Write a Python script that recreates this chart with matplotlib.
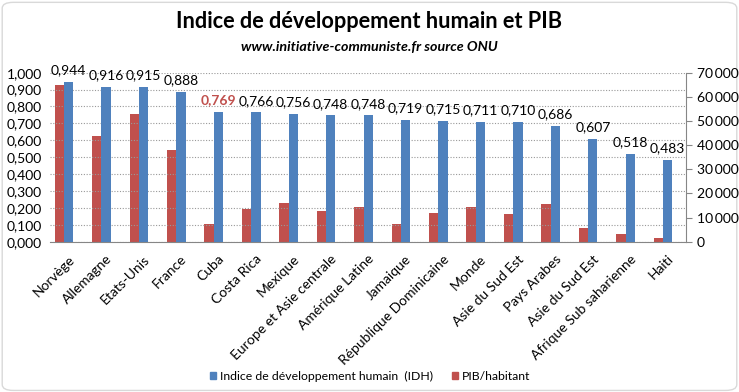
import matplotlib.pyplot as plt
import matplotlib.ticker as mticker
import matplotlib.transforms as mtransforms
from matplotlib.patches import Patch, FancyBboxPatch
import numpy as np

plt.rcParams['font.family'] = ['Lato', 'DejaVu Sans']

pays = ['Norvège', 'Allemagne', 'Etats-Unis', 'France', 'Cuba', 'Costa Rica',
        'Mexique', 'Europe et Asie centrale', 'Amérique Latine', 'Jamaique',
        'République Dominicaine', 'Monde', 'Asie du Sud Est', 'Pays Arabes',
        'Asie du Sud Est', 'Afrique Sub saharienne', 'Haiti']
idh = [0.944, 0.916, 0.915, 0.888, 0.769, 0.766, 0.756, 0.748, 0.748, 0.719,
       0.715, 0.711, 0.710, 0.686, 0.607, 0.518, 0.483]
pib = [64800, 43800, 52900, 38000, 7300, 13500, 16000, 12700, 14500, 7300,
       11900, 14500, 11500, 15600, 5500, 3300, 1650]

bleu = '#4F81BD'
rouge = '#C0504D'
gris = '#868686'

W, H = 739, 392
fig = plt.figure(figsize=(W / 100, H / 100), dpi=100)

# cadre arrondi du graphique
fig.patches.append(FancyBboxPatch((0.003, 0.004), 0.994, 0.99, boxstyle='round,pad=0,rounding_size=0.015',
                                  transform=fig.transFigure, fc='white', ec='#d9d9d9', lw=1, zorder=-10))

ax = fig.add_axes([50 / W, 150.3 / H, 636 / W, 169 / H])
ax2 = ax.twinx()

x = np.arange(len(pays))
bw = 0.25
ax.bar(x + bw / 2, idh, bw, color=bleu, zorder=3)
ax2.bar(x - bw / 2, pib, bw, color=rouge, zorder=3)

ax.set_xlim(-0.374, len(pays) - 1 + 0.614)
ax.set_ylim(0, 1)
ax2.set_ylim(0, 70000)
ax.set_yticks(np.arange(0, 1.01, 0.1))
ax2.set_yticks(np.arange(0, 70001, 10000))
ax.yaxis.set_major_formatter(mticker.FuncFormatter(lambda v, p: ('%.3f' % v).replace('.', ',')))
ax2.yaxis.set_major_formatter(mticker.FuncFormatter(
    lambda v, p: '{:,.0f}'.format(v).replace(',', '\u2009')))

ax.grid(axis='y', linestyle=(0, (1, 1.5)), color='#999999', lw=0.8, zorder=0)
ax.set_axisbelow(True)

for a in (ax, ax2):
    for s in ('top', 'left'):
        a.spines[s].set_visible(False)
ax.spines['right'].set_visible(False)
ax2.spines['bottom'].set_visible(False)
ax2.spines['right'].set_color(gris)
ax.spines['bottom'].set_color(gris)

ax.tick_params(axis='y', length=0, labelsize=10, pad=6)
ax2.tick_params(axis='y', length=4, color=gris, labelsize=10, pad=4)
ax.tick_params(axis='x', length=0, pad=8)
ax.set_xticks(x)
ax.set_xticklabels(pays, rotation=45, ha='right', va='top', rotation_mode='anchor', fontsize=10)
decal = mtransforms.ScaledTranslation(4 / 100, 0, fig.dpi_scale_trans)
for lab in ax.get_xticklabels():
    lab.set_transform(lab.get_transform() + decal)

ax.set_zorder(ax2.get_zorder() + 1)
ax.patch.set_visible(False)

for i, v in enumerate(idh):
    cuba = pays[i] == 'Cuba'
    ax.annotate(('%.3f' % v).replace('.', ','), (x[i] + bw / 2, v), xytext=(0, 4),
                textcoords='offset points', ha='center', va='bottom', fontsize=10,
                color=rouge if cuba else 'black', fontweight='bold' if cuba else 'normal')

fig.text(0.5, 1 - 22 / H, 'Indice de développement humain et PIB', ha='center', va='center',
         fontsize=15.7, fontweight='bold')
fig.text(0.5, 1 - 47 / H, 'www.initiative-communiste.fr source ONU', ha='center', va='center',
         fontsize=10.3, fontweight='bold', style='italic')

handles = [Patch(color=bleu), Patch(color=rouge)]
fig.legend(handles, ['Indice de développement humain  (IDH)', 'PIB/habitant'], loc='center',
           bbox_to_anchor=(370 / W, 16 / H), ncol=2, frameon=False, fontsize=8.8,
           handlelength=0.5, handleheight=0.5, handletextpad=0.3, columnspacing=1.6)

fig.savefig('out.png', dpi=100)
